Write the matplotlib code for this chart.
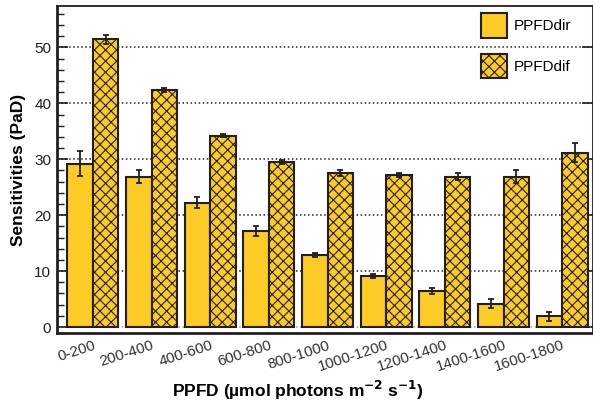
import numpy as np
import matplotlib.pyplot as plt
from matplotlib.ticker import MultipleLocator

plt.rcParams['font.family'] = ['Liberation Sans', 'DejaVu Sans']
plt.rcParams['hatch.linewidth'] = 0.8

categories = ['0-200', '200-400', '400-600', '600-800', '800-1000',
              '1000-1200', '1200-1400', '1400-1600', '1600-1800']
dir_vals = [29.2, 26.9, 22.2, 17.2, 12.9, 9.1, 6.4, 4.2, 1.9]
dir_err = [2.2, 1.2, 1.0, 0.9, 0.4, 0.4, 0.55, 0.8, 0.8]
dif_vals = [51.5, 42.4, 34.2, 29.5, 27.5, 27.2, 26.9, 26.9, 31.2]
dif_err = [0.8, 0.3, 0.3, 0.4, 0.5, 0.3, 0.6, 1.2, 1.7]

yellow = '#fccb26'
edge = '#231f20'

fig = plt.figure(figsize=(5.93, 4.03), dpi=100)
ax = fig.add_axes([0.096, 0.174, 0.9035, 0.811])

x = np.arange(len(categories))
w = 0.435
ax.bar(x - w / 2, dir_vals, w, color=yellow, edgecolor=edge, linewidth=1.5,
       label='PPFDdir', zorder=3)
ax.bar(x + w / 2, dif_vals, w, color=yellow, edgecolor=edge, linewidth=1.5,
       hatch='xxx', label='PPFDdif', zorder=3)
ax.errorbar(x - w / 2, dir_vals, yerr=dir_err, fmt='none', ecolor=edge,
            elinewidth=1.3, capsize=2.5, capthick=1.3, zorder=4)
ax.errorbar(x + w / 2, dif_vals, yerr=dif_err, fmt='none', ecolor=edge,
            elinewidth=1.3, capsize=2.5, capthick=1.3, zorder=4)

# dotted reference lines
for yv in range(10, 60, 10):
    ax.axhline(yv, color='#222222', ls=':', lw=1.1, zorder=1)
ax.axhline(0, color='#999999', ls=':', lw=1.1, zorder=1)

ax.set_xlim(-0.613, 8.52)
ax.set_ylim(-1.05, 57.4)
ax.yaxis.set_major_locator(MultipleLocator(10))
ax.yaxis.set_minor_locator(MultipleLocator(2))
ax.set_yticks(range(0, 60, 10))
ax.tick_params(axis='y', which='major', direction='in', length=8, width=1.2,
               labelsize=11, colors=edge, right=True, pad=4)
ax.tick_params(axis='y', which='minor', direction='in', length=5, width=1.0,
               colors=edge)
ax.tick_params(axis='y', which='minor', right=False)
ax.set_xticks(x)
ax.set_xticklabels(categories, rotation=18, ha='right', rotation_mode='anchor',
                   fontsize=11, color='#333333')
ax.tick_params(axis='x', length=0, pad=4)

ax.spines['left'].set_linewidth(2)
ax.spines['bottom'].set_linewidth(2)
ax.spines['top'].set_linewidth(1.3)
ax.spines['right'].set_linewidth(1.3)
for s in ax.spines.values():
    s.set_color(edge)

ax.set_ylabel('Sensitivities (PaD)', fontsize=12.5, fontweight='bold', labelpad=6)
ax.set_xlabel('PPFD (µmol photons m$^{\\mathbf{-2}}$ s$^{\\mathbf{-1}}$)',
              fontsize=12.5, fontweight='bold')
ax.xaxis.set_label_coords(0.45, -0.14)

ax.legend(loc='upper right', frameon=False, fontsize=11, handlelength=1.65,
          handleheight=2.1, labelspacing=1.05, handletextpad=0.45,
          bbox_to_anchor=(0.985, 1.02))

fig.savefig('out.png', dpi=100)
